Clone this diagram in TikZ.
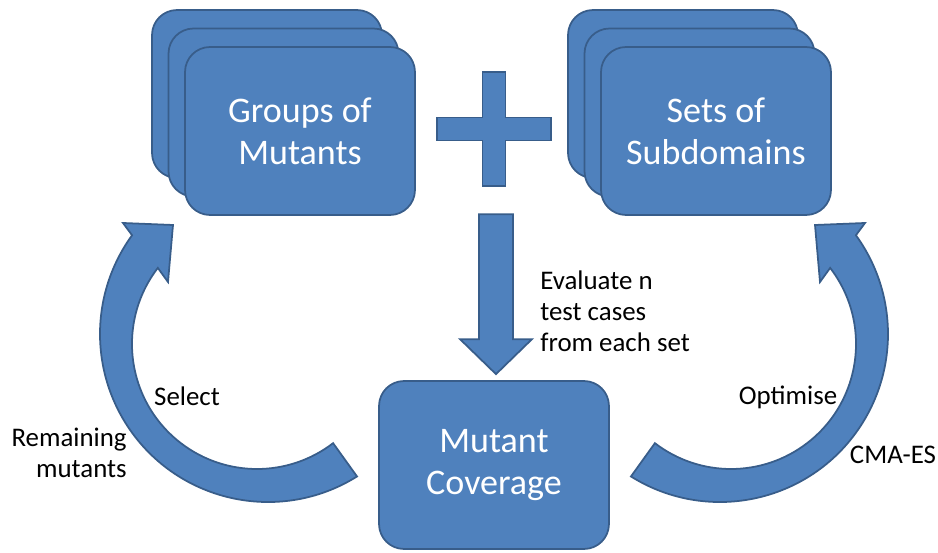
\documentclass[tikz,border=0pt]{standalone}
\usepackage{fontspec}
\setmainfont{Carlito}
\usepackage{tikz}
\usetikzlibrary{positioning, calc}

\definecolor{boxfill}{HTML}{4F81BD}
\definecolor{boxline}{HTML}{385D8A}

\begin{document}
\begin{tikzpicture}[
	x=0.02cm, y=0.02cm,
	block/.style={draw=boxline, fill=boxfill, line width=1pt, rectangle, rounded corners=0.5cm, minimum width=4.6cm, minimum height=3.36cm, align=center, text=white, font=\fontsize{20.5}{24}\selectfont},
	bigarrow/.style={draw=boxline, fill=boxfill, line width=1pt, line join=miter},
	txt/.style={font=\fontsize{15.3}{17.7}\selectfont, inner sep=0pt}]

	\useasboundingbox (0,0) rectangle (938,552);

	% Blocos empilhados
	\node (grpBack) [block] at (267,458) {};
	\node (grpMid) [block, xshift=0.33cm, yshift=-0.37cm] at (grpBack) {};
	\node (grpFront) [block, xshift=0.33cm, yshift=-0.37cm] at (grpMid) {Groups of\\Mutants};

	\node (setBack) [block] at (683,458) {};
	\node (setMid) [block, xshift=0.33cm, yshift=-0.37cm] at (setBack) {};
	\node (setFront) [block, xshift=0.33cm, yshift=-0.37cm] at (setMid) {Sets of\\Subdomains};

	\node (covg) [block] at (494,87) {Mutant\\Coverage};

	% Sinal de mais
	\coordinate (plusC) at (494,423);
	\draw[bigarrow] (plusC) ++(-11.5,57) -- ++(23,0) -- ++(0,-45.5) -- ++(45.5,0) -- ++(0,-23)
		-- ++(-45.5,0) -- ++(0,-45.5) -- ++(-23,0) -- ++(0,45.5) -- ++(-45.5,0) -- ++(0,23) -- ++(45.5,0) -- cycle;

	% Seta para baixo
	\coordinate (evalTip) at ($(covg.north)+(2,6)$);
	\draw[bigarrow] (evalTip) -- ++(36,35) -- ++(-19,0) -- ++(0,125) -- ++(-34,0) -- ++(0,-125) -- ++(-19,0) -- cycle;

	% Setas curvas
	\coordinate (selC) at (268,218);
	\coordinate (selCi) at (257,208);
	\draw[bigarrow] ($(selC)+(-58:168)$) arc[start angle=-58, end angle=-216, radius=168]
		-- (123,329) -- (173,327) -- (168,270)
		-- ($(selCi)+(-217.5:125)$) arc[start angle=-217.5, end angle=-52.5, radius=125] -- cycle;

	\coordinate (optC) at (720,218);
	\coordinate (optCi) at (731,208);
	\draw[bigarrow] ($(optC)+(238:168)$) arc[start angle=238, end angle=396, radius=168]
		-- (865,329) -- (815,327) -- (820,270)
		-- ($(optCi)+(397.5:125)$) arc[start angle=397.5, end angle=232.5, radius=125] -- cycle;

	% Textos
	\node (evalTxt) [txt, anchor=west, align=left] at (540,241) {Evaluate n\\test cases\\from each set};
	\node (selTxt) [txt] at (187,156) {Select};
	\node (remTxt) [txt, anchor=east, align=right] at (127,99) {Remaining\\mutants};
	\node (optTxt) [txt] at (788,155) {Optimise};
	\node (cmaTxt) [txt] at (893,97) {CMA-ES};
\end{tikzpicture}
\end{document}
